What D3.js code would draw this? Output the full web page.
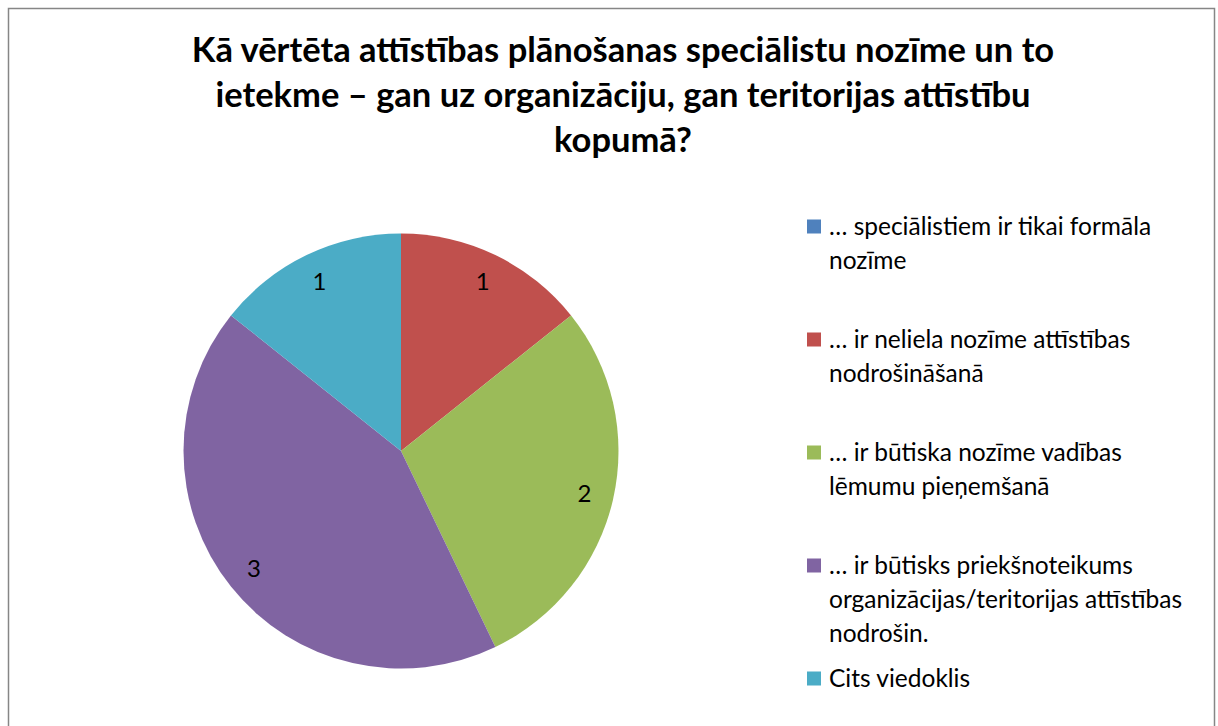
<!DOCTYPE html>
<html>
<head>
<meta charset="utf-8">
<script src="https://cdn.jsdelivr.net/npm/d3@7"></script>
<style>
  body { margin: 0; background: #fff; }
  svg { display: block; }
</style>
</head>
<body>
<div id="chart"></div>
<script>
const titleLines = [
    "Kā vērtēta attīstības plānošanas speciālistu nozīme un to",
    "ietekme – gan uz organizāciju, gan teritorijas attīstību",
    "kopumā?",
];
const categories = [
    ["… speciālistiem ir tikai formāla", "nozīme"],
    ["… ir neliela nozīme attīstības", "nodrošināšanā"],
    ["… ir būtiska nozīme vadības", "lēmumu pieņemšanā"],
    ["… ir būtisks priekšnoteikums", "organizācijas/teritorijas attīstības", "nodrošin."],
    ["Cits viedoklis"],
];
const values = [0, 1, 2, 3, 1];
const colors = ["#4F81BD", "#C0504D", "#9BBB59", "#8064A2", "#4BACC6"];

const width = 1218;
const height = 726;
const center = { x: 401, y: 451 };
const radius = 217.5;
const fontFamily = "Lato, 'Open Sans', sans-serif";

const svg = d3.select("#chart").append("svg")
    .attr("width", width)
    .attr("height", height);

// chart frame
svg.append("rect")
    .attr("x", 8.5).attr("y", 8.5)
    .attr("width", 1206).attr("height", 730)
    .attr("fill", "#fff")
    .attr("stroke", "#868686")
    .attr("stroke-width", 1.5);

// title
svg.append("g")
    .selectAll("text")
    .data(titleLines)
    .join("text")
    .attr("x", 623)
    .attr("y", (d, i) => 62 + i * 45)
    .attr("text-anchor", "middle")
    .attr("font-family", fontFamily)
    .attr("font-weight", "bold")
    .attr("font-size", 34.5)
    .attr("fill", "#000")
    .text(d => d);

const data = values.map((v, i) => ({ value: v, label: categories[i], color: colors[i] }));

const pie = d3.pie()
    .sort(null)
    .value(d => d.value);
const arcs = pie(data);

const arc = d3.arc()
    .innerRadius(0)
    .outerRadius(radius);
const labelArc = d3.arc()
    .innerRadius(radius * 0.865)
    .outerRadius(radius * 0.865);

const graph = svg.append("g")
    .attr("transform", `translate(${center.x},${center.y})`);

graph.selectAll("path")
    .data(arcs)
    .join("path")
    .attr("d", arc)
    .attr("fill", d => d.data.color);

graph.selectAll("text")
    .data(arcs.filter(d => d.data.value > 0))
    .join("text")
    .attr("transform", d => `translate(${labelArc.centroid(d)})`)
    .attr("text-anchor", "middle")
    .attr("dy", "0.36em")
    .attr("font-family", fontFamily)
    .attr("font-size", 24)
    .attr("fill", "#000")
    .text(d => d.data.value);

// legend
const legend = svg.append("g")
    .attr("transform", "translate(807,0)");

const item = legend.selectAll("g")
    .data(data)
    .join("g")
    .attr("transform", (d, i) => `translate(0,${226.5 + i * 113})`);

item.append("rect")
    .attr("x", 0).attr("y", -7)
    .attr("width", 14).attr("height", 14)
    .attr("fill", d => d.color);

item.append("text")
    .attr("font-family", fontFamily)
    .attr("font-size", 24.5)
    .attr("fill", "#000")
    .selectAll("tspan")
    .data(d => d.label)
    .join("tspan")
    .attr("x", 22)
    .attr("y", (d, i) => 8 + i * 34)
    .text(d => d);
</script>
</body>
</html>
